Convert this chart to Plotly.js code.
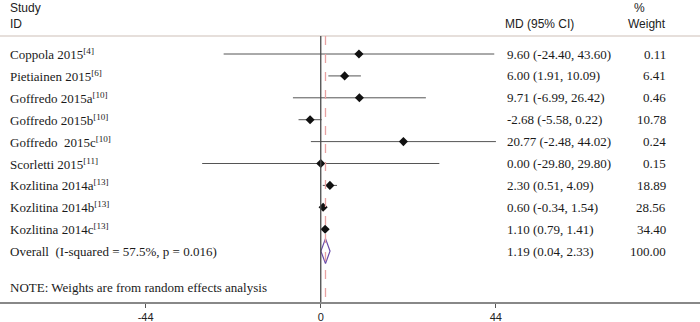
<!DOCTYPE html>
<html><head><meta charset="utf-8">
<script src="https://cdn.plot.ly/plotly-3.0.1.min.js"></script>
<style>html,body{margin:0;padding:0;background:#fff}#chart{width:700px;height:322px}</style>
</head><body><div id="chart"></div>
<script>
const studies = ['Coppola 2015','Pietiainen 2015','Goffredo 2015a','Goffredo 2015b','Goffredo\u00a0 2015c','Scorletti 2015','Kozlitina 2014a','Kozlitina 2014b','Kozlitina 2014c'];
const refs = ['4','6','10','10','10','11','13','13','13'];
const md = [9.60, 6.00, 9.71, -2.68, 20.77, 0.00, 2.30, 0.60, 1.10];
const lo = [-24.40, 1.91, -6.99, -5.58, -2.48, -29.80, 0.51, -0.34, 0.79];
const hi = [43.60, 10.09, 26.42, 0.22, 44.02, 29.80, 4.09, 1.54, 1.41];
const weights = [0.11, 6.41, 0.46, 10.78, 0.24, 0.15, 18.89, 28.56, 34.40];
const overallLabel = 'Overall\u00a0 (I-squared = 57.5%, p = 0.016)';
const overallMd = 1.19, overallLo = 0.04, overallHi = 2.33, overallWeight = 100.00;
const tickVals = [-44, 0, 44];
const tickText = ['-44', '0', '44'];
const noteText = 'NOTE: Weights are from random effects analysis';

const rows = studies.map((s, i) => i);
const overallRow = studies.length;
const noteRow = overallRow + 1.65;
const topRule = -0.82;
const yBottom = 11.324, yTop = -2.466;
const serif = 'Liberation Serif, Times New Roman, serif';
const sans = 'Liberation Sans, Arial, sans-serif';

// CI lines
const cx = [], cy = [];
rows.forEach(i => { cx.push(lo[i], hi[i], null); cy.push(i, i, null); });

const traces = [
  {x: cx, y: cy, mode: 'lines', line: {color: '#555', width: 1}, hoverinfo: 'skip', showlegend: false},
  {x: md, y: rows, mode: 'markers', marker: {symbol: 'diamond', size: 7, color: '#111'}, showlegend: false},
  {x: [overallLo, overallMd, overallHi, overallMd, overallLo],
   y: [overallRow, overallRow - 0.57, overallRow, overallRow + 0.57, overallRow],
   mode: 'lines', line: {color: '#6a4aa8', width: 1.2}, showlegend: false, hoverinfo: 'skip'}
];

const fmt = v => v.toFixed(2);
const ann = [];
const addText = (text, xp, y, anchor, font) => ann.push({text, x: xp / 700, xref: 'paper', y, yref: 'y', xanchor: anchor, yanchor: 'middle', showarrow: false, font});
const serifFont = {family: serif, size: 13, color: '#1a1a1a'};
const sansFont = {family: sans, size: 12, color: '#222'};

addText('Study', 8, -2.12, 'left', sansFont);
addText('ID', 8, -1.37, 'left', sansFont);
addText('MD (95% CI)', 503, -1.37, 'left', sansFont);
addText('%', 639, -2.12, 'center', sansFont);
addText('Weight', 668, -1.37, 'right', sansFont);

rows.forEach(i => {
  addText(studies[i] + '<sup>[' + refs[i] + ']</sup>', 8, i, 'left', serifFont);
  addText(fmt(md[i]) + ' (' + fmt(lo[i]) + ', ' + fmt(hi[i]) + ')', 505, i, 'left', serifFont);
  addText(fmt(weights[i]), 668, i, 'right', serifFont);
});
addText(overallLabel, 8, overallRow, 'left', serifFont);
addText(fmt(overallMd) + ' (' + fmt(overallLo) + ', ' + fmt(overallHi) + ')', 505, overallRow, 'left', serifFont);
addText(fmt(overallWeight), 668, overallRow, 'right', serifFont);
addText(noteText, 8, noteRow, 'left', serifFont);

const shapes = [
  {type: 'line', xref: 'paper', x0: 0, x1: 1, yref: 'y', y0: topRule, y1: topRule, line: {color: '#e6dfdb', width: 2}},
  {type: 'line', xref: 'x', x0: 0, x1: 0, yref: 'y', y0: topRule, y1: yBottom, line: {color: '#4a4a4a', width: 1.3}},
  {type: 'line', xref: 'x', x0: overallMd, x1: overallMd, yref: 'y', y0: topRule, y1: yBottom, line: {color: '#e8a2a2', width: 1.3, dash: 'dash'}}
];

const layout = {
  width: 700, height: 322,
  margin: {l: 0, r: 0, t: 0, b: 20},
  paper_bgcolor: '#fff', plot_bgcolor: '#fff',
  showlegend: false,
  xaxis: {range: [-80.6, 95.3], tickvals: tickVals, ticktext: tickText, ticks: 'outside', ticklen: 4, tickcolor: '#555',
          showline: true, linecolor: '#888', linewidth: 1.5, showgrid: false, zeroline: false,
          tickfont: {family: sans, size: 11, color: '#222'}, fixedrange: true},
  yaxis: {range: [yBottom, yTop], visible: false, showgrid: false, zeroline: false, fixedrange: true},
  annotations: ann,
  shapes: shapes
};

Plotly.newPlot('chart', traces, layout, {displayModeBar: false, staticPlot: true});
</script>
</body></html>
